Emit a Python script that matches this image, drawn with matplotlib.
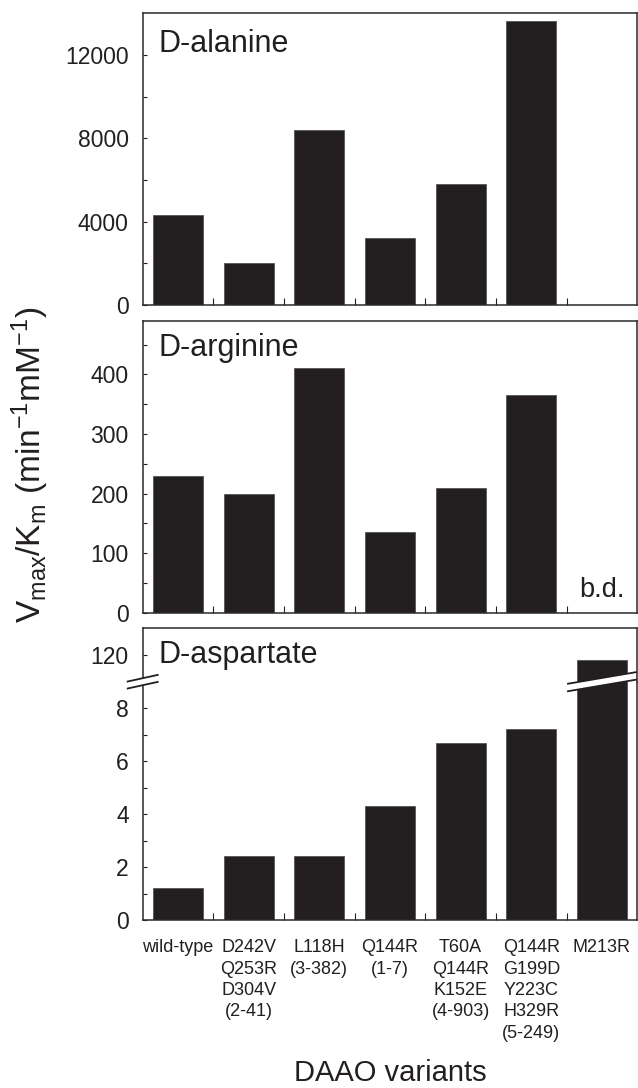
import numpy as np
import matplotlib
matplotlib.use("Agg")
import matplotlib.pyplot as plt
from matplotlib.ticker import FixedLocator, NullFormatter
from matplotlib.patches import Polygon
from matplotlib.lines import Line2D

# data
variants = ["wild-type", "D242V\nQ253R\nD304V\n(2-41)", "L118H\n(3-382)", "Q144R\n(1-7)",
            "T60A\nQ144R\nK152E\n(4-903)", "Q144R\nG199D\nY223C\nH329R\n(5-249)", "M213R"]
alanine = [4300, 2000, 8400, 3200, 5800, 13650, 0]          # M213R: no value shown
arginine = [230, 200, 410, 135, 210, 365, 0]                # M213R: below detection
aspartate = [1.2, 2.4, 2.4, 4.3, 6.7, 7.2, 116]

plt.rcParams["font.family"] = ["Liberation Sans", "DejaVu Sans"]
plt.rcParams["mathtext.fontset"] = "custom"
plt.rcParams["mathtext.rm"] = "Liberation Sans"
plt.rcParams["mathtext.default"] = "regular"

INK = "#231f20"
BAR_W = 0.71
W, H = 638, 1088
fig = plt.figure(figsize=(W / 100, H / 100), dpi=100)

def box(left, top, right, bottom):
    # pixel box -> figure fraction rect
    return [left / W, (H - bottom) / H, (right - left) / W, (bottom - top) / H]

x = np.arange(len(variants))
L, R = 142.7, 637.3

def style(ax, ylim, majors, minors, show_xt=True):
    ax.bar(x, ylim[2], BAR_W, color=INK, edgecolor="#555555", linewidth=0.6)
    ax.set_xlim(-0.5, len(variants) - 0.5)
    ax.set_ylim(ylim[0], ylim[1])
    ax.yaxis.set_major_locator(FixedLocator(majors))
    ax.yaxis.set_minor_locator(FixedLocator(minors))
    ax.tick_params(axis="y", which="both", direction="in", length=3, width=0.8,
                   labelsize=16.5, pad=10, colors=INK)
    ax.xaxis.set_major_locator(FixedLocator(x[:-1] + 0.5))
    ax.xaxis.set_major_formatter(NullFormatter())
    ax.tick_params(axis="x", which="major", direction="in", length=5, width=0.8,
                   colors=INK, bottom=show_xt)
    for s in ax.spines.values():
        s.set_color("#2a2a2a")
        s.set_linewidth(1.1)

# top: D-alanine
ax1 = fig.add_axes(box(L, 13.3, R, 305))
style(ax1, (0, 14000, alanine), [0, 4000, 8000, 12000], [2000, 6000, 10000])
ax1.text(0.031, 0.868, "D-alanine", transform=ax1.transAxes, fontsize=22,
         color=INK, va="baseline")

# middle: D-arginine
ax2 = fig.add_axes(box(L, 320.7, R, 612.7))
style(ax2, (0, 490, arginine), [0, 100, 200, 300, 400], [50, 150, 250, 350, 450])
ax2.text(0.031, 0.879, "D-arginine", transform=ax2.transAxes, fontsize=22,
         color=INK, va="baseline")
ax2.text(x[-1], 27, "b.d.", fontsize=19.5, color=INK, ha="center", va="baseline")

# bottom: D-aspartate, broken axis
BRK = 681.7
ax3 = fig.add_axes(box(L, BRK, R, 920))
style(ax3, (0, 9, aspartate), [0, 2, 4, 6, 8], [1, 3, 5, 7])
ax3.spines["top"].set_visible(False)
ax3.set_xticks(x, variants, minor=True)
ax3.tick_params(axis="x", which="minor", length=0, pad=14, labelsize=13,
                colors=INK)
for lab in ax3.get_xticklabels(minor=True):
    lab.set_linespacing(1.33)

ax4 = fig.add_axes(box(L, 628.3, R, BRK))
style(ax4, (100, 140, aspartate), [120], [], show_xt=False)
ax4.spines["bottom"].set_visible(False)
ax4.tick_params(axis="x", which="both", bottom=False)
ax4.text(0.031, 0.345, "D-aspartate", transform=ax4.transAxes, fontsize=22,
         color=INK, va="baseline")

# break marks (white band between two slanted lines)
def break_mark(cx, cy, w, slope, gap):
    inv = fig.transFigure.inverted()
    pts = []
    for dx, dy in [(-w / 2, -gap / 2), (w / 2, -gap / 2), (w / 2, gap / 2), (-w / 2, gap / 2)]:
        pts.append((cx + dx, cy + dy + slope * dx))
    pts = inv.transform(pts)
    fig.add_artist(Polygon(pts, closed=True, facecolor="white", edgecolor="none",
                           transform=fig.transFigure, zorder=5))
    for a, b in [(0, 1), (3, 2)]:
        fig.add_artist(Line2D([pts[a][0], pts[b][0]], [pts[a][1], pts[b][1]],
                              color=INK, linewidth=1.3, transform=fig.transFigure, zorder=6))

cy = ax3.transAxes.transform((0, 1))[1]
break_mark(ax3.transAxes.transform((0, 1))[0], cy, 30, 0.22, 7)
break_mark(ax3.transData.transform((x[-1], 0))[0], cy, 68, 0.17, 7.5)

# axis titles
fig.text(30 / W, (H - 465) / H, r"V$_{max}$/K$_{m}$ (min$^{-1}$mM$^{-1}$)",
         rotation=90, fontsize=24, color=INK, ha="center", va="center")
fig.text((L + R) / 2 / W, (H - 1081) / H, "DAAO variants", fontsize=21,
         color=INK, ha="center", va="baseline")

fig.savefig("out.png", dpi=100)
